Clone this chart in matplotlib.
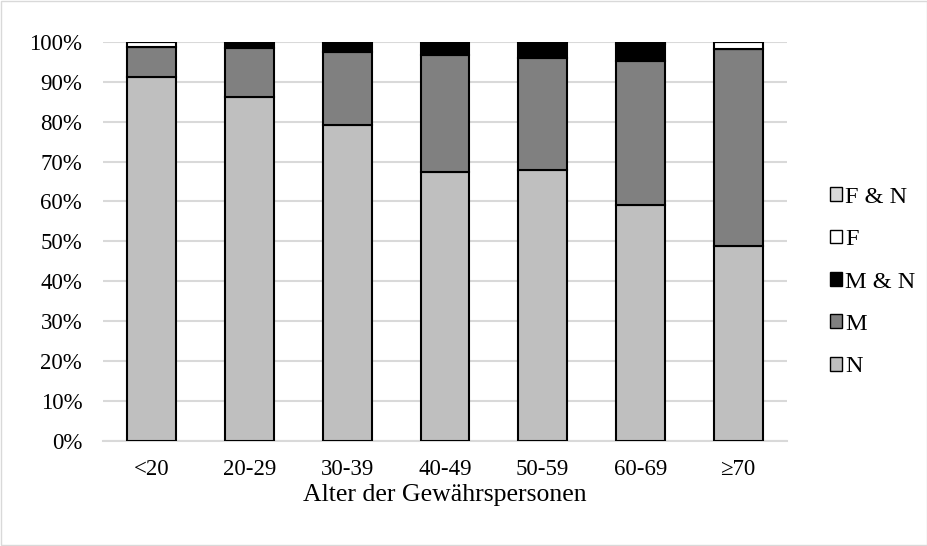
import numpy as np
import matplotlib.pyplot as plt
from matplotlib.patches import Rectangle

plt.rcParams['font.family'] = ['Liberation Serif', 'DejaVu Serif']

categories = ["<20", "20-29", "30-39", "40-49", "50-59", "60-69", "≥70"]
n_vals = [91.3, 86.2, 79.2, 67.5, 68.0, 59.0, 48.8]
m_vals = [7.4, 12.4, 18.4, 29.3, 27.9, 36.2, 49.4]
mn_vals = [0.0, 1.4, 2.4, 3.2, 4.1, 4.3, 0.0]
f_vals = [1.3, 0.0, 0.0, 0.0, 0.0, 0.5, 1.8]
fn_vals = [0.0, 0.0, 0.0, 0.0, 0.0, 0.0, 0.0]

series = [("N", n_vals, "#bfbfbf"),
          ("M", m_vals, "#808080"),
          ("M & N", mn_vals, "#000000"),
          ("F", f_vals, "#ffffff"),
          ("F & N", fn_vals, "#d9d9d9")]

fig = plt.figure(figsize=(9.28, 5.46), dpi=100)
ax = fig.add_axes([0.111, 0.193, 0.737, 0.730])

x = np.arange(len(categories))
bottom = np.zeros(len(categories))
handles = []
for name, vals, col in series:
    vals = np.array(vals)
    bars = ax.bar(x, vals, 0.5, bottom=bottom, color=col, edgecolor="black",
                  linewidth=1.5, label=name, zorder=3)
    handles.append(bars)
    bottom += vals

ax.set_xlim(-0.5, len(categories) - 0.5)
ax.set_ylim(0, 100)
ax.set_yticks(np.arange(0, 101, 10))
ax.set_yticklabels([f"{v}%" for v in range(0, 101, 10)])
ax.set_xticks(x)
ax.set_xticklabels(categories)
ax.tick_params(length=0, labelsize=16.5)
ax.tick_params(axis="y", pad=15)
ax.tick_params(axis="x", pad=13)
ax.yaxis.grid(True, color="#d9d9d9", linewidth=1.5, zorder=0)
for s in ["top", "right", "left"]:
    ax.spines[s].set_visible(False)
ax.spines["bottom"].set_color("#d9d9d9")
ax.spines["bottom"].set_linewidth(1.5)
ax.set_xlabel("Alter der Gewährspersonen", fontsize=18.5, labelpad=3)

leg = fig.legend(handles[::-1], [s[0] for s in series][::-1], loc="center left",
                 bbox_to_anchor=(0.881, 0.4835), frameon=False, fontsize=17.5,
                 handlelength=0.5, handleheight=0.5, handletextpad=0.12,
                 labelspacing=0.88, borderpad=0)
for h in leg.legend_handles:
    h.set_linewidth(1.0)

fig.patches.append(Rectangle((0.001, 0.001), 0.998, 0.998, transform=fig.transFigure,
                             fill=False, edgecolor="#d9d9d9", linewidth=1))

fig.savefig("out.png", dpi=100)
